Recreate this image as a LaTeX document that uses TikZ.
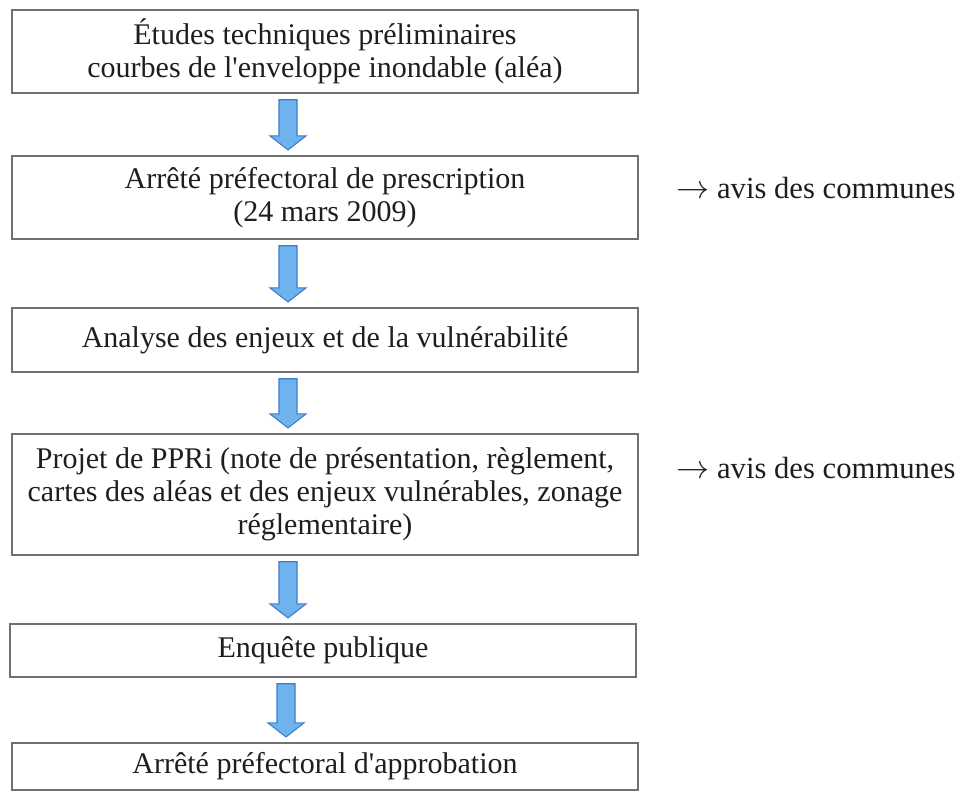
\documentclass[tikz,border=0pt]{standalone}
\usepackage{fontspec}
\setmainfont{Liberation Serif}[Ligatures=TeXOff]
\usetikzlibrary{calc}
\definecolor{boxgray}{RGB}{112,112,112}
\definecolor{textc}{RGB}{30,30,30}
\definecolor{arrfill}{RGB}{110,178,238}
\definecolor{arrdraw}{RGB}{62,124,205}
\tikzset{
  box/.style={draw=boxgray, line width=1.1pt, minimum width=469.5pt, inner sep=0pt,
    align=center, text=textc, font=\fontsize{22.5pt}{24.5pt}\selectfont},
  sidelabel/.style={anchor=base west, inner sep=0pt, text=textc,
    font=\fontsize{23pt}{25pt}\selectfont},
  blockarr/.style={fill=arrfill, draw=arrdraw, line width=0.8pt, line join=miter}
}
\newcommand\flowarrow[2]{%
  \draw[blockarr] let \p1=(#1.south), \p2=(#2.north) in
    (\x1-27.75pt-6.75pt, \y1-4.5pt) -- (\x1-27.75pt+6.75pt, \y1-4.5pt)
    -- (\x1-27.75pt+6.75pt, \y2+14.5pt) -- (\x1-27.75pt+13.5pt, \y2+14.5pt)
    -- (\x1-27.75pt, \y2+4pt) -- (\x1-27.75pt-13.5pt, \y2+14.5pt)
    -- (\x1-27.75pt-6.75pt, \y2+14.5pt) -- cycle;}
\begin{document}
\begin{tikzpicture}[x=0.75pt, y=-0.75pt]
\useasboundingbox (0,0) rectangle (970,792);
\node[box, minimum height=62.25pt] (b1) at (325,51.5)
  {Études techniques préliminaires\\courbes de l'enveloppe inondable (aléa)};
\node[box, minimum height=62.25pt] (b2) at (325,197.5)
  {Arrêté préfectoral de prescription\\(24 mars 2009)};
\node[box, minimum height=48pt] (b3) at (325,340)
  {Analyse des enjeux et de la vulnérabilité};
\node[box, minimum height=90.75pt, font=\fontsize{22.5pt}{24.75pt}\selectfont] (b4) at (325,494.5)
  {Projet de PPRi (note de présentation, règlement,\\cartes des aléas et des enjeux vulnérables, zonage\\réglementaire)};
\node[box, minimum height=39.75pt] (b5) at (323,650.5)
  {Enquête publique};
\node[box, minimum height=35.25pt] (b6) at (325,766.5)
  {Arrêté préfectoral d'approbation};
\node[sidelabel] (l1) at (676,198) {$\rightarrow$ avis des communes};
\node[sidelabel] (l2) at (676,478) {$\rightarrow$ avis des communes};
\flowarrow{b1}{b2}
\flowarrow{b2}{b3}
\flowarrow{b3}{b4}
\flowarrow{b4}{b5}
\flowarrow{b5}{b6}
\end{tikzpicture}
\end{document}
